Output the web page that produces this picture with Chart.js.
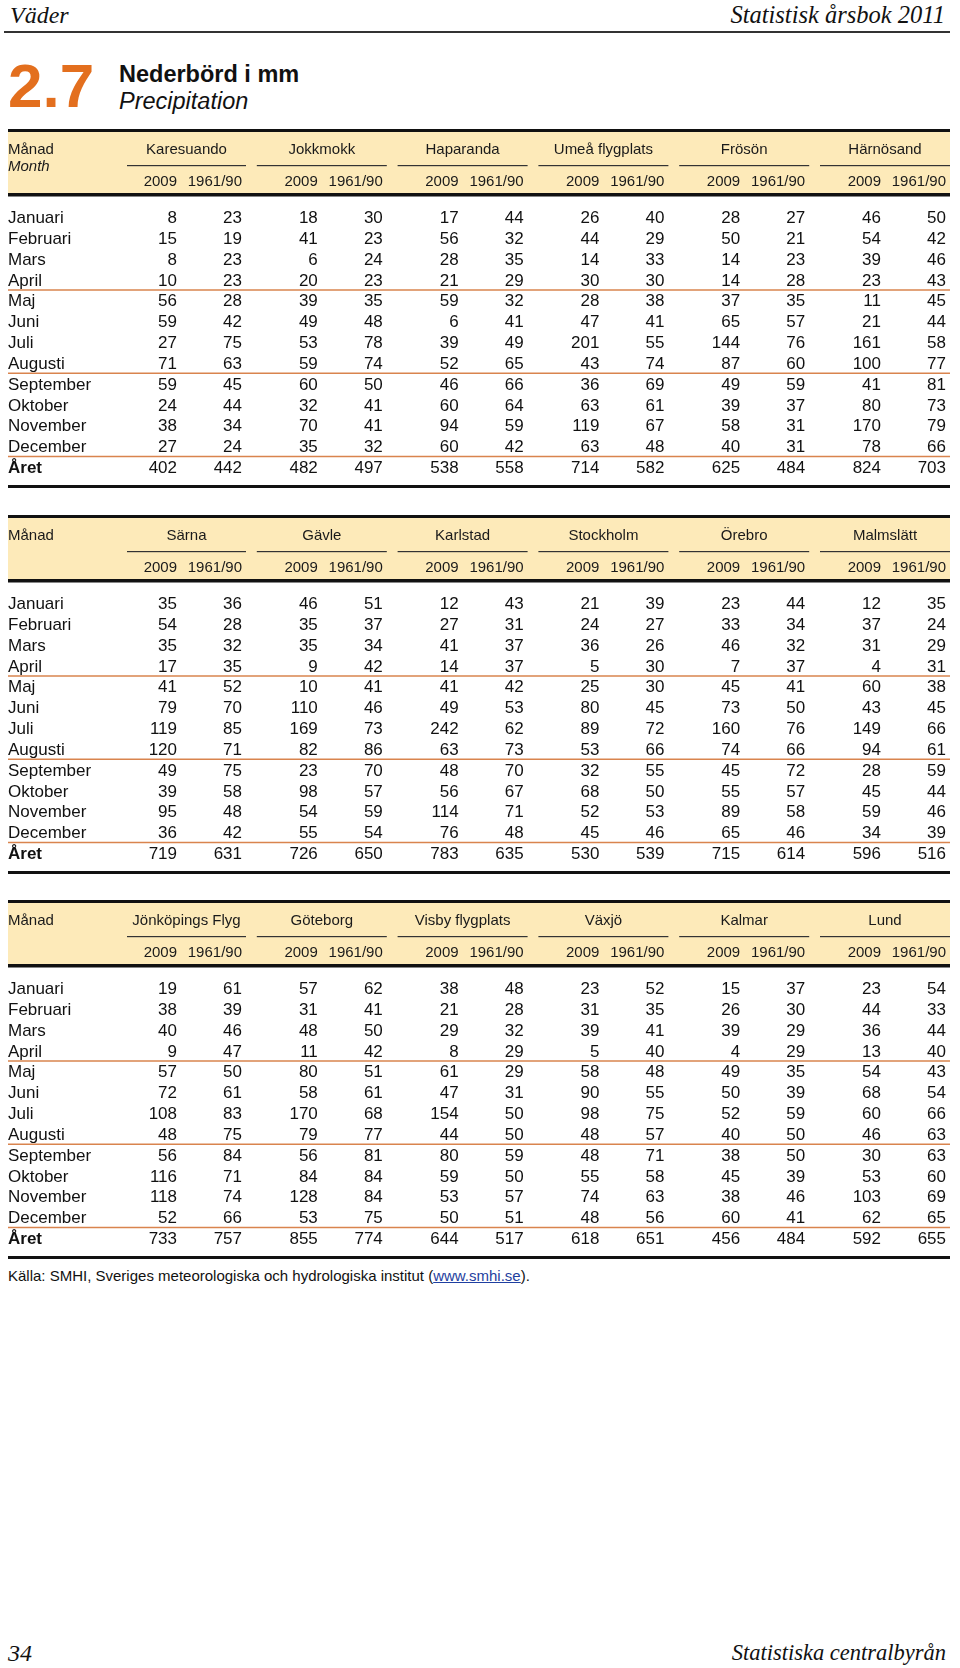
<!DOCTYPE html>
<html><head><meta charset="utf-8">
<script src="https://cdn.jsdelivr.net/npm/chart.js@4.4.1/dist/chart.umd.min.js"></script>
<style>
html,body{margin:0;padding:0;background:#fff;}
body{width:960px;height:1668px;position:relative;overflow:hidden;font-family:"Liberation Sans",Arial,sans-serif;color:#111;}
.t{position:absolute;white-space:nowrap;line-height:1;}
.serif{font-family:"Liberation Serif","Times New Roman",serif;font-style:italic;color:#111;}
canvas.blk{position:absolute;left:0;}
</style></head><body>
<div class="t serif" style="left:10px;top:3px;font-size:24px;">Väder</div>
<div class="t serif" style="right:15px;top:3px;font-size:24.5px;">Statistisk årsbok 2011</div>
<div style="position:absolute;left:4px;top:31px;width:946px;height:1.5px;background:#333"></div>
<div class="t" style="left:8px;top:55px;font-size:62px;font-weight:bold;color:#e36f1e;">2.7</div>
<div class="t" style="left:119px;top:63px;font-size:23.5px;font-weight:bold;">Nederbörd i mm</div>
<div class="t" style="left:119px;top:90px;font-size:23.5px;font-style:italic;">Precipitation</div>

<canvas id="b1" class="blk" width="960" height="362" style="top:129px"></canvas>
<canvas id="b2" class="blk" width="960" height="362" style="top:515px"></canvas>
<canvas id="b3" class="blk" width="960" height="362" style="top:900px"></canvas>

<div class="t" style="left:8px;top:1268px;font-size:15px;">Källa: SMHI, Sveriges meteorologiska och hydrologiska institut (<span style="color:#1f3fa0;text-decoration:underline">www.smhi.se</span>).</div>
<div class="t serif" style="left:8px;top:1641px;font-size:24px;">34</div>
<div class="t serif" style="right:14px;top:1642px;font-size:22.5px;">Statistiska centralbyrån</div>

<script>
// ---- data ----
const rowLabels = ['Januari','Februari','Mars','April','Maj','Juni','Juli','Augusti','September','Oktober','November','December','Året'];
const periodLabels = ['2009','1961/90'];
const headLabel = 'Månad';
const headLabelEn = 'Month';

const stations1 = ['Karesuando','Jokkmokk','Haparanda','Umeå flygplats','Frösön','Härnösand'];
const obs1 = [
  [8,15,8,10,56,59,27,71,59,24,38,27,402],
  [18,41,6,20,39,49,53,59,60,32,70,35,482],
  [17,56,28,21,59,6,39,52,46,60,94,60,538],
  [26,44,14,30,28,47,201,43,36,63,119,63,714],
  [28,50,14,14,37,65,144,87,49,39,58,40,625],
  [46,54,39,23,11,21,161,100,41,80,170,78,824]
];
const norm1 = [
  [23,19,23,23,28,42,75,63,45,44,34,24,442],
  [30,23,24,23,35,48,78,74,50,41,41,32,497],
  [44,32,35,29,32,41,49,65,66,64,59,42,558],
  [40,29,33,30,38,41,55,74,69,61,67,48,582],
  [27,21,23,28,35,57,76,60,59,37,31,31,484],
  [50,42,46,43,45,44,58,77,81,73,79,66,703]
];

const stations2 = ['Särna','Gävle','Karlstad','Stockholm','Örebro','Malmslätt'];
const obs2 = [
  [35,54,35,17,41,79,119,120,49,39,95,36,719],
  [46,35,35,9,10,110,169,82,23,98,54,55,726],
  [12,27,41,14,41,49,242,63,48,56,114,76,783],
  [21,24,36,5,25,80,89,53,32,68,52,45,530],
  [23,33,46,7,45,73,160,74,45,55,89,65,715],
  [12,37,31,4,60,43,149,94,28,45,59,34,596]
];
const norm2 = [
  [36,28,32,35,52,70,85,71,75,58,48,42,631],
  [51,37,34,42,41,46,73,86,70,57,59,54,650],
  [43,31,37,37,42,53,62,73,70,67,71,48,635],
  [39,27,26,30,30,45,72,66,55,50,53,46,539],
  [44,34,32,37,41,50,76,66,72,57,58,46,614],
  [35,24,29,31,38,45,66,61,59,44,46,39,516]
];

const stations3 = ['Jönköpings Flyg','Göteborg','Visby flygplats','Växjö','Kalmar','Lund'];
const obs3 = [
  [19,38,40,9,57,72,108,48,56,116,118,52,733],
  [57,31,48,11,80,58,170,79,56,84,128,53,855],
  [38,21,29,8,61,47,154,44,80,59,53,50,644],
  [23,31,39,5,58,90,98,48,48,55,74,48,618],
  [15,26,39,4,49,50,52,40,38,45,38,60,456],
  [23,44,36,13,54,68,60,46,30,53,103,62,592]
];
const norm3 = [
  [61,39,46,47,50,61,83,75,84,71,74,66,757],
  [62,41,50,42,51,61,68,77,81,84,84,75,774],
  [48,28,32,29,29,31,50,50,59,50,57,51,517],
  [52,35,41,40,48,55,75,57,71,58,63,56,651],
  [37,30,29,29,35,39,59,50,50,39,46,41,484],
  [54,33,44,40,43,54,66,63,63,60,69,65,655]
];

// ---- layout / style (not data) ----
const LAYOUT = {
  left: 8, right: 950, col2009: 177, colNorm: 242, step: 140.8,
  headerBg: '#fdeab9', rule: '#111', sep: '#d9844e', under: '#333',
  bodyFont: '"Liberation Sans", Arial, sans-serif'
};
function colRight(s, p){ return (p ? LAYOUT.colNorm : LAYOUT.col2009) + s * LAYOUT.step; }

const tablePlugin = {
  id: 'tableText',
  beforeDatasetsDraw(chart){
    const ctx = chart.ctx, o = chart.options.plugins.tableText;
    const xs = chart.scales.x, ys = chart.scales.y;
    const L = xs.getPixelForValue(LAYOUT.left), R = xs.getPixelForValue(LAYOUT.right);
    ctx.save();
    ctx.fillStyle = LAYOUT.headerBg; ctx.fillRect(L, 3, R - L, 61);
    ctx.fillStyle = LAYOUT.rule;
    ctx.fillRect(L, 0, R - L, 3);
    ctx.fillRect(L, 64, R - L, 3.5);
    ctx.fillRect(L, 356, R - L, 3);
    // orange separators between row groups
    ctx.strokeStyle = LAYOUT.sep; ctx.lineWidth = 1.5;
    [[3,4],[7,8],[11,12]].forEach(([a,b])=>{
      const y = (ys.getPixelForValue(a) + ys.getPixelForValue(b)) / 2;
      ctx.beginPath(); ctx.moveTo(L, y); ctx.lineTo(R, y); ctx.stroke();
    });
    // header texts
    const F = LAYOUT.bodyFont;
    ctx.fillStyle = '#1a1a1a';
    ctx.textBaseline = 'alphabetic';
    ctx.font = '15px ' + F; ctx.textAlign = 'left';
    ctx.fillText(headLabel, L, 20 + 5.4);
    if (o.sub) { ctx.font = 'italic 15px ' + F; ctx.fillText(o.sub, L, 37 + 5.4); }
    ctx.font = '15px ' + F;
    o.stations.forEach((name, s) => {
      const x0 = xs.getPixelForValue(s === 0 ? colRight(0,0) - 50 : colRight(s,0) - 61);
      const x1 = xs.getPixelForValue(colRight(s,1) + 4);
      ctx.textAlign = 'center';
      ctx.fillText(name, (x0 + x1) / 2, 20 + 5.4);
      ctx.fillStyle = LAYOUT.under; ctx.fillRect(x0, 36, x1 - x0, 1.2); ctx.fillStyle = '#1a1a1a';
      ctx.textAlign = 'right';
      periodLabels.forEach((pl, p) => ctx.fillText(pl, xs.getPixelForValue(colRight(s,p)), 52 + 5.4));
    });
    // row labels
    ctx.textAlign = 'left'; ctx.fillStyle = '#111';
    rowLabels.forEach((lab, i) => {
      ctx.font = (i === 12 ? 'bold ' : '') + '17px ' + F;
      ctx.fillText(lab, L, ys.getPixelForValue(i) + 6.1);
    });
    ctx.restore();
  },
  afterDatasetsDraw(chart){
    const ctx = chart.ctx;
    ctx.save();
    ctx.font = '17px ' + LAYOUT.bodyFont; ctx.fillStyle = '#111';
    ctx.textAlign = 'right'; ctx.textBaseline = 'alphabetic';
    chart.data.datasets.forEach((ds, di) => {
      chart.getDatasetMeta(di).data.forEach((pt, j) => {
        ctx.fillText(String(ds.data[j].v), pt.x, pt.y + 6.1);
      });
    });
    ctx.restore();
  }
};

function makeBlock(id, stations, obs, norm, sub){
  const datasets = [];
  stations.forEach((name, s) => {
    [obs[s], norm[s]].forEach((vals, p) => {
      datasets.push({
        label: name + ' ' + periodLabels[p],
        data: vals.map((v, i) => ({ x: colRight(s, p), y: rowLabels[i], v })),
        pointRadius: 0, showLine: false
      });
    });
  });
  new Chart(document.getElementById(id), {
    type: 'scatter',
    data: { datasets },
    plugins: [tablePlugin],
    options: {
      responsive: false, animation: false, devicePixelRatio: 1, events: [],
      layout: { padding: { top: 88, bottom: 24, left: 0, right: 0 } },
      plugins: { legend: { display: false }, tooltip: { enabled: false },
        tableText: { stations, sub } },
      scales: {
        x: { type: 'linear', min: 0, max: 960, display: false },
        y: { type: 'category', labels: rowLabels, offset: false, display: false }
      }
    }
  });
}
makeBlock('b1', stations1, obs1, norm1, headLabelEn);
makeBlock('b2', stations2, obs2, norm2, null);
makeBlock('b3', stations3, obs3, norm3, null);
</script>
</body></html>
